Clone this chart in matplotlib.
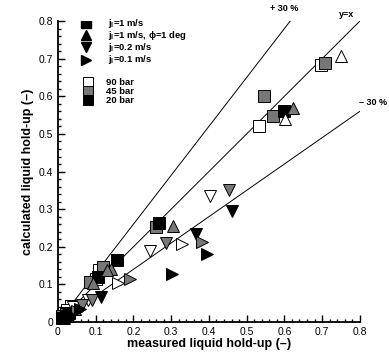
import matplotlib.pyplot as plt
from matplotlib.ticker import MultipleLocator, FuncFormatter

plt.rcParams['font.family'] = ['Liberation Sans', 'DejaVu Sans']
plt.rcParams['mathtext.fontset'] = 'custom'
plt.rcParams['mathtext.rm'] = 'Liberation Sans:bold'
plt.rcParams['mathtext.it'] = 'Liberation Sans:bold'
plt.rcParams['mathtext.bf'] = 'Liberation Sans:bold'

# pressure levels -> face colour
pressures = ["90 bar", "45 bar", "20 bar"]
faces = {"90 bar": "white", "45 bar": "#777777", "20 bar": "black"}

# measured / calculated hold-up, per case and pressure
# squares: jl=1 m/s
sq_90_x = [0.698, 0.532, 0.110, 0.102, 0.035, 0.025, 0.015]
sq_90_y = [0.683, 0.520, 0.138, 0.114, 0.043, 0.033, 0.025]
sq_45_x = [0.709, 0.546, 0.570, 0.259, 0.120, 0.085, 0.020, 0.010]
sq_45_y = [0.688, 0.602, 0.547, 0.252, 0.147, 0.107, 0.020, 0.015]
sq_20_x = [0.598, 0.268, 0.157, 0.105, 0.010, 0.020, 0.030]
sq_20_y = [0.562, 0.262, 0.165, 0.120, 0.010, 0.015, 0.025]
# up triangles: jl=1 m/s, phi=1 deg
up_90_x = [0.751, 0.601]
up_90_y = [0.707, 0.540]
up_45_x = [0.622, 0.304, 0.140, 0.129, 0.092, 0.045]
up_45_y = [0.570, 0.254, 0.140, 0.138, 0.103, 0.035]
up_20_x = [0.015]
up_20_y = [0.010]
# down triangles: jl=0.2 m/s
dn_90_x = [0.404, 0.244, 0.079, 0.040]
dn_90_y = [0.336, 0.190, 0.059, 0.040]
dn_45_x = [0.454, 0.287, 0.089, 0.063]
dn_45_y = [0.351, 0.209, 0.058, 0.045]
dn_20_x = [0.460, 0.367, 0.115, 0.025, 0.040]
dn_20_y = [0.296, 0.234, 0.067, 0.015, 0.022]
# right triangles: jl=0.1 m/s
rt_90_x = [0.329, 0.160]
rt_90_y = [0.208, 0.105]
rt_45_x = [0.381, 0.192, 0.050]
rt_45_y = [0.213, 0.115, 0.030]
rt_20_x = [0.394, 0.303, 0.058, 0.030]
rt_20_y = [0.182, 0.127, 0.035, 0.020]

series = [
    ("s", "90 bar", sq_90_x, sq_90_y), ("s", "45 bar", sq_45_x, sq_45_y), ("s", "20 bar", sq_20_x, sq_20_y),
    ("^", "90 bar", up_90_x, up_90_y), ("^", "45 bar", up_45_x, up_45_y), ("^", "20 bar", up_20_x, up_20_y),
    ("v", "90 bar", dn_90_x, dn_90_y), ("v", "45 bar", dn_45_x, dn_45_y), ("v", "20 bar", dn_20_x, dn_20_y),
    (">", "90 bar", rt_90_x, rt_90_y), (">", "45 bar", rt_45_x, rt_45_y), (">", "20 bar", rt_20_x, rt_20_y),
]

case_markers = ["s", "^", "v", ">"]
case_labels = [r"j$_l$=1 m/s", r"j$_l$=1 m/s, $\phi$=1 deg", r"j$_l$=0.2 m/s", r"j$_l$=0.1 m/s"]

fig = plt.figure(figsize=(3.89, 3.54), dpi=100)
ax = fig.add_axes([0.149, 0.0904, 0.776, 0.850])

# reference lines
ax.plot([0, 0.8], [0, 0.8], color="black", lw=0.7)
ax.plot([0, 0.8 / 1.3], [0, 0.8], color="black", lw=0.7)
ax.plot([0, 0.8], [0, 0.56], color="black", lw=0.7)
ax.text(0.765, 0.812, "y=x", fontsize=6.5, fontweight="bold", ha="center")
ax.text(0.60, 0.827, "+ 30 %", fontsize=6.5, fontweight="bold", ha="center")
ax.text(0.835, 0.578, "\u2013 30 %", fontsize=6.5, fontweight="bold", ha="center")

for m, p, xs, ys in series:
    ax.plot(xs, ys, linestyle="none", marker=m, ms=8, mfc=faces[p], mec="black",
            mew=0.7, clip_on=False, zorder=3)

# legend drawn by hand
leg_y = [0.794, 0.763, 0.731, 0.697]
for m, lab, yy in zip(case_markers, case_labels, leg_y):
    ax.plot([0.073], [yy], marker=m, ms=7.5, color="black", linestyle="none")
    ax.text(0.132, yy, lab, fontsize=6.8, fontweight="bold", va="center")
pres_y = [0.638, 0.614, 0.590]
for p, yy in zip(pressures, pres_y):
    ax.plot([0.079], [yy], marker="s", ms=7, mfc=faces[p], mec="black", mew=0.7, linestyle="none")
    ax.text(0.127, yy, p, fontsize=6.8, fontweight="bold", va="center")

ax.set_xlim(0, 0.8)
ax.set_ylim(0, 0.8)
for s in ["top", "right"]:
    ax.spines[s].set_visible(False)
for s in ["left", "bottom"]:
    ax.spines[s].set_linewidth(1.3)
ax.xaxis.set_major_locator(MultipleLocator(0.1))
ax.yaxis.set_major_locator(MultipleLocator(0.1))
ax.xaxis.set_minor_locator(MultipleLocator(0.02))
ax.yaxis.set_minor_locator(MultipleLocator(0.02))
fmt = FuncFormatter(lambda v, pos: "0" if abs(v) < 1e-9 else f"{v:.1f}")
ax.xaxis.set_major_formatter(fmt)
ax.yaxis.set_major_formatter(fmt)
ax.tick_params(which="both", direction="in", top=False, right=False, labelsize=7.5, width=1)
ax.tick_params(which="major", length=5)
ax.tick_params(which="minor", length=2.5)
ax.set_xlabel("measured liquid hold-up (\u2013)", fontsize=9, fontweight="bold", labelpad=1)
ax.set_ylabel("calculated liquid hold-up (\u2013)", fontsize=9, fontweight="bold", labelpad=3)

fig.savefig("out.png", dpi=100)
